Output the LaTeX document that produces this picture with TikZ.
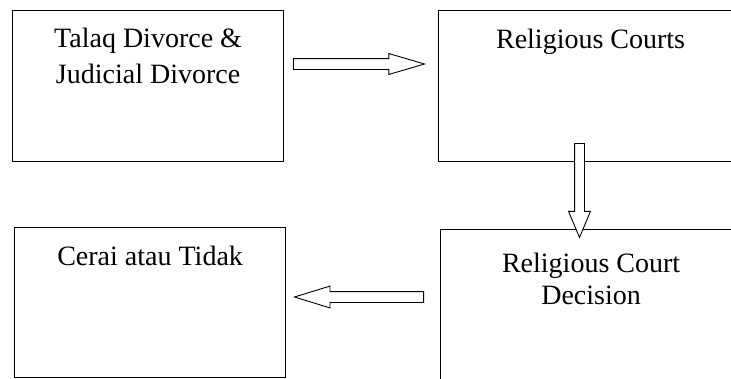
\documentclass[tikz,border=0pt]{standalone}
\usepackage{fontspec}
\setmainfont{Liberation Serif}
\usetikzlibrary{positioning,shapes.arrows}

\begin{document}
\begin{tikzpicture}[x=1pt, y=-1pt,
  bx/.style={draw, line width=1.2pt, anchor=north west, inner sep=0pt},
  lb/.style={font=\fontsize{28}{36}\selectfont, align=center, inner sep=0pt},
  blk/.style={single arrow, draw, line width=0.9pt, fill=white, inner xsep=0pt,
    single arrow head indent=0pt, anchor=tail}
]
\useasboundingbox (0,0) rectangle (731,378);
% boxes
\node[bx, minimum width=271pt, minimum height=151pt] (talaq) at (12,10) {};
\node[bx, minimum width=304pt, minimum height=151pt] (court) at (438,10) {};
\node[bx, minimum width=271pt, minimum height=150pt] (cerai) at (14,227) {};
\node[bx, minimum width=301pt, minimum height=160pt] (decis) at (440,229) {};
% labels
\node[lb, below=18pt of talaq.north] (ltalaq) {Talaq Divorce \&\\Judicial Divorce};
\node[lb, below=19pt of court.north] (lcourt) {Religious Courts};
\node[lb, below=19pt of cerai.north] (lcerai) {Cerai atau Tidak};
\node[lb, font=\fontsize{28}{32}\selectfont, below=23.5pt of decis.north] (ldecis) {Religious Court\\Decision};
% block arrows
\node[blk, minimum height=131pt, inner ysep=5pt, single arrow head extend=5pt,
  single arrow tip angle=32.8] (atc) at (293,64) {};
\node[blk, minimum height=94pt, inner ysep=4.5pt, single arrow head extend=6pt,
  single arrow tip angle=45.6, rotate=-90] (acd) at (579.5,143) {};
\node[blk, minimum height=129pt, inner ysep=5pt, single arrow head extend=5.5pt,
  single arrow tip angle=34.3, rotate=180] (adc) at (424,297) {};
\end{tikzpicture}
\end{document}
